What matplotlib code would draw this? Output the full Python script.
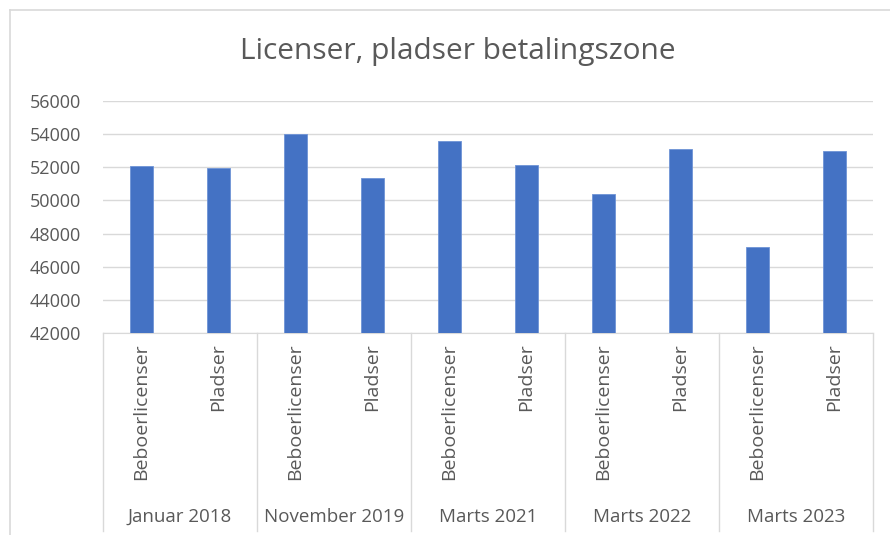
import matplotlib.pyplot as plt
from matplotlib.transforms import blended_transform_factory
from matplotlib.lines import Line2D

# data
groups = ["Januar 2018", "November 2019", "Marts 2021", "Marts 2022", "Marts 2023"]
series = ["Beboerlicenser", "Pladser"]
beboerlicenser = [52050, 54020, 53560, 50370, 47160]
pladser = [51940, 51380, 52150, 53120, 52990]

BLUE = "#4472C4"
TXT = "#595959"
GRID = "#D9D9D9"
plt.rcParams['font.family'] = ['Open Sans', 'DejaVu Sans']

W, H = 890, 535
fig = plt.figure(figsize=(W / 100, H / 100), dpi=100, facecolor="white")
ax = fig.add_axes([103 / W, 1 - 333 / H, (873 - 103) / W, (333 - 101) / H])

values = []
labels = []
for b, p in zip(beboerlicenser, pladser):
    values += [b, p]
    labels += series
xs = list(range(len(values)))
ax.bar(xs, values, width=0.31, color=BLUE, edgecolor="#6E93D6", linewidth=0.6, zorder=3)

ax.set_xlim(-0.5, len(values) - 0.5)
ax.set_ylim(42000, 56000)
ax.set_yticks(range(42000, 56001, 2000))
ax.tick_params(axis='y', length=0, labelsize=13, labelcolor=TXT, pad=16)
ax.set_xticks([])
ax.grid(axis='y', color=GRID, lw=1, zorder=0)
for s in ["top", "right", "left"]:
    ax.spines[s].set_visible(False)
ax.spines["bottom"].set_color(GRID)

tr = blended_transform_factory(ax.transData, fig.transFigure)
for x, lab in zip(xs, labels):
    ax.text(x, 1 - 343 / H, lab, transform=tr, rotation=90, ha='center', va='top',
            fontsize=14, color=TXT, clip_on=False)

for i, g in enumerate(groups):
    ax.text(2 * i + 0.5, 1 - 517 / H, g, transform=tr, ha='center', va='center',
            fontsize=13.5, color=TXT, clip_on=False)
for k in range(len(groups) + 1):
    xb = 2 * k - 0.5
    ax.add_line(Line2D([xb, xb], [1 - 333 / H, 1 - 531 / H], transform=tr,
                       color=GRID, lw=1, clip_on=False))

# outer chart border
fig.add_artist(Line2D([10 / W, 10 / W], [0, 1 - 10 / H], transform=fig.transFigure, color="#D9D9D9", lw=1.2))
fig.add_artist(Line2D([10 / W, 1], [1 - 10 / H, 1 - 10 / H], transform=fig.transFigure, color="#D9D9D9", lw=1.2))

fig.text(458 / W, 1 - 51 / H, "Licenser, pladser betalingszone", ha='center', va='center',
         fontsize=21.5, color=TXT)

fig.savefig("out.png", dpi=100, facecolor="white")
